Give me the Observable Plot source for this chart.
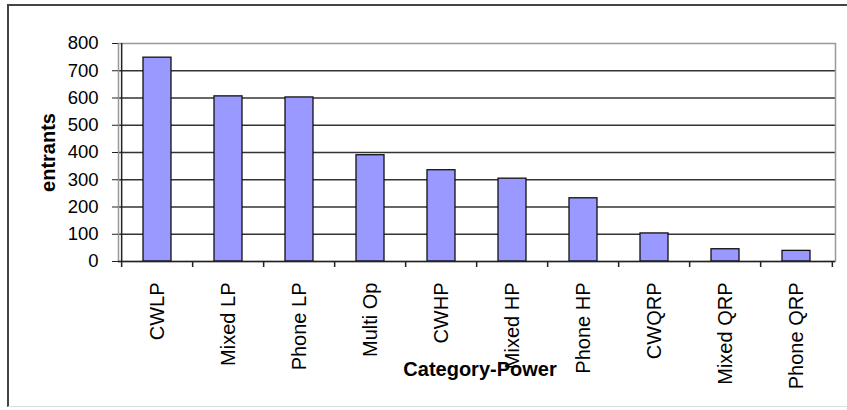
<!DOCTYPE html>
<html>
<head>
<meta charset="utf-8">
<script src="https://cdn.jsdelivr.net/npm/d3@7"></script>
<script src="https://cdn.jsdelivr.net/npm/@observablehq/plot@0.6"></script>
<style>
  html, body { margin: 0; padding: 0; background: #fff; }
  #wrap { position: relative; width: 847px; height: 410px; overflow: hidden; }
  #border { position: absolute; left: 7px; top: 4px; width: 860px; height: 403px;
            border-top: 2px solid #444; border-left: 2px solid #444; border-bottom: 1px solid #ddd;
            box-sizing: border-box; pointer-events: none; }
  svg { position: absolute; left: 0; top: 0; }
</style>
</head>
<body>
<div id="wrap"><div id="border"></div></div>
<script>
const categories = ["CWLP", "Mixed LP", "Phone LP", "Multi Op", "CWHP", "Mixed HP", "Phone HP", "CWQRP", "Mixed QRP", "Phone QRP"];
const entrants = [748, 606, 602, 390, 335, 304, 232, 103, 45, 39];
const yTicks = [0, 100, 200, 300, 400, 500, 600, 700, 800];
const gridLines = [100, 200, 300, 400, 500, 600, 700];
const yLabel = "entrants";
const xLabel = "Category-Power";

const data = categories.map((c, i) => ({cat: c, val: entrants[i]}));

const W = 847, H = 410, mL = 118, mR = 12, mT = 43, mB = 149;
const step = (W - mL - mR) / categories.length;

const chart = Plot.plot({
  width: W, height: H,
  marginLeft: mL, marginRight: mR, marginTop: mT, marginBottom: mB,
  style: {fontFamily: "'Liberation Sans', Arial, sans-serif", background: "transparent", color: "#000"},
  x: {domain: categories, paddingInner: 0.6, paddingOuter: 0.3, axis: null},
  y: {domain: [0, 800], axis: null},
  marks: [
    Plot.ruleY(gridLines, {stroke: "#333", strokeWidth: 1.5}),
    Plot.frame({stroke: "#999", strokeWidth: 1.5}),
    Plot.barY(data, {x: "cat", y: "val", fill: "#9999ff", stroke: "#111", strokeWidth: 1.3}),
    Plot.ruleY([0], {stroke: "#222", strokeWidth: 1.5}),
    Plot.ruleX([categories[0]], {x: d => d, dx: -step / 2, y1: 0, y2: 800, stroke: "#222", strokeWidth: 1.5}),
    Plot.ruleX(categories, {x: d => d, dx: -step / 2, y1: 0, y2: -22, stroke: "#222", strokeWidth: 1.5}),
    Plot.ruleX([categories[categories.length - 1]], {x: d => d, dx: step / 2, y1: 0, y2: -22, stroke: "#222", strokeWidth: 1.5}),
    Plot.axisY(yTicks, {tickSize: 6, tickPadding: 14, fontSize: 18.5, label: null, stroke: "#222"}),
    Plot.axisX(categories, {tickSize: 0, tickPadding: 21, tickRotate: -90, fontSize: 20, label: null}),
    Plot.text([yLabel], {frameAnchor: "left", textAnchor: "middle", lineAnchor: "middle", dx: -70, rotate: -90, fontWeight: "bold", fontSize: 20}),
    Plot.text([xLabel], {frameAnchor: "bottom", textAnchor: "middle", lineAnchor: "middle", dx: 3, dy: 108, fontWeight: "bold", fontSize: 20})
  ]
});
document.getElementById("wrap").prepend(chart);
</script>
</body>
</html>
